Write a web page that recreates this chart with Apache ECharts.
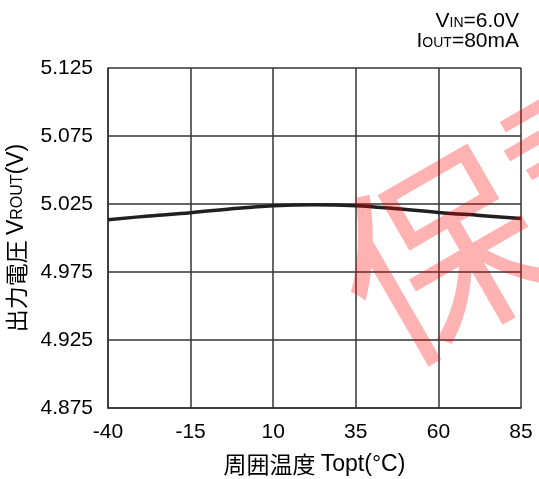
<!DOCTYPE html>
<html>
<head>
<meta charset="utf-8">
<script src="https://cdn.jsdelivr.net/npm/echarts@6/dist/echarts.min.js"></script>
<style>
  html, body { margin: 0; padding: 0; background: #fff; }
  #chart { width: 539px; height: 479px; }
</style>
</head>
<body>
<div id="chart"></div>
<script>
// ambient temperature (°C) and output voltage (V)
const temps = [-40, -27.5, -15, -2.5, 10, 22.5, 35, 47.5, 60, 72.5, 85]
const vout = [5.0135, 5.0162, 5.0186, 5.0215, 5.0237, 5.0245, 5.0238, 5.0215, 5.0188, 5.0166, 5.0144]
const xTicks = [-40, -15, 10, 35, 60, 85]
const yTicks = [4.875, 4.925, 4.975, 5.025, 5.075, 5.125]

const font = '"Liberation Sans", Arial, sans-serif'
const cjk = '"Noto Sans CJK JP", "Liberation Sans", sans-serif'
const gridColor = '#333'

const chart = echarts.init(document.getElementById('chart'), null, { renderer: 'canvas' })

// small-caps style run, baseline aligned with the big text
const smallCap = { fontSize: 14, fontFamily: font, fill: '#000', color: '#000', verticalAlign: 'bottom', padding: [0, 0, 2, 0] }

chart.setOption({
  animation: false,
  backgroundColor: '#fff',
  grid: { left: 108, right: 18, top: 68, bottom: 71, outerBoundsMode: 'none' },
  xAxis: {
    type: 'value',
    min: xTicks[0],
    max: xTicks[xTicks.length - 1],
    interval: 25,
    name: '{c|周囲温度 }{l|Topt(°C)}',
    nameLocation: 'middle',
    nameGap: 45,
    nameTextStyle: {
      rich: {
        c: { color: '#000', fontSize: 23, fontFamily: cjk },
        l: { color: '#000', fontSize: 23, fontFamily: font },
      },
    },
    axisLine: { show: true, onZero: false, lineStyle: { color: gridColor, width: 1.5 } },
    axisTick: { show: false },
    axisLabel: { color: '#000', fontSize: 21, fontFamily: font, margin: 14 },
    splitLine: { show: true, lineStyle: { color: gridColor, width: 1.5 } },
  },
  yAxis: {
    type: 'value',
    min: yTicks[0],
    max: yTicks[yTicks.length - 1],
    interval: 0.05,
    name: '{a|出力電圧 }{b|V}{s|ROUT}{b|(V)}',
    nameLocation: 'middle',
    nameGap: 80,
    nameTextStyle: {
      rich: {
        a: { color: '#000', fontSize: 23, fontFamily: cjk },
        b: { color: '#000', fontSize: 23, fontFamily: font },
        s: Object.assign({}, smallCap, { fontSize: 16 }),
      },
    },
    axisLine: { show: true, onZero: false, lineStyle: { color: gridColor, width: 1.5 } },
    axisTick: { show: false },
    axisLabel: {
      color: '#000', fontSize: 21, fontFamily: font, margin: 15,
      formatter: (v) => v.toFixed(3),
    },
    splitLine: { show: true, lineStyle: { color: gridColor, width: 1.5 } },
  },
  series: [
    {
      type: 'line',
      data: temps.map((t, i) => [t, vout[i]]),
      smooth: 0.4,
      showSymbol: false,
      lineStyle: { color: '#231f20', width: 3.5 },
      z: 3,
    },
  ],
  graphic: [
    {
      type: 'text',
      right: 20,
      top: 11,
      style: {
        text: '{b|V}{s|IN}{b|=6.0V}',
        rich: {
          b: { fontSize: 21, fontFamily: font, fill: '#000' },
          s: smallCap,
        },
      },
    },
    {
      type: 'text',
      right: 20,
      top: 31,
      style: {
        text: '{b|I}{s|OUT}{b|=80mA}',
        rich: {
          b: { fontSize: 21, fontFamily: font, fill: '#000' },
          s: smallCap,
        },
      },
    },
    {
      type: 'text',
      x: 353,
      y: 305,
      rotation: Math.PI / 6,
      z: 100,
      style: {
        text: '保証',
        font: '200px "Noto Sans CJK JP", sans-serif',
        fill: 'rgba(255, 0, 0, 0.3)',
        align: 'left',
        verticalAlign: 'middle',
      },
    },
  ],
})
</script>
</body>
</html>
